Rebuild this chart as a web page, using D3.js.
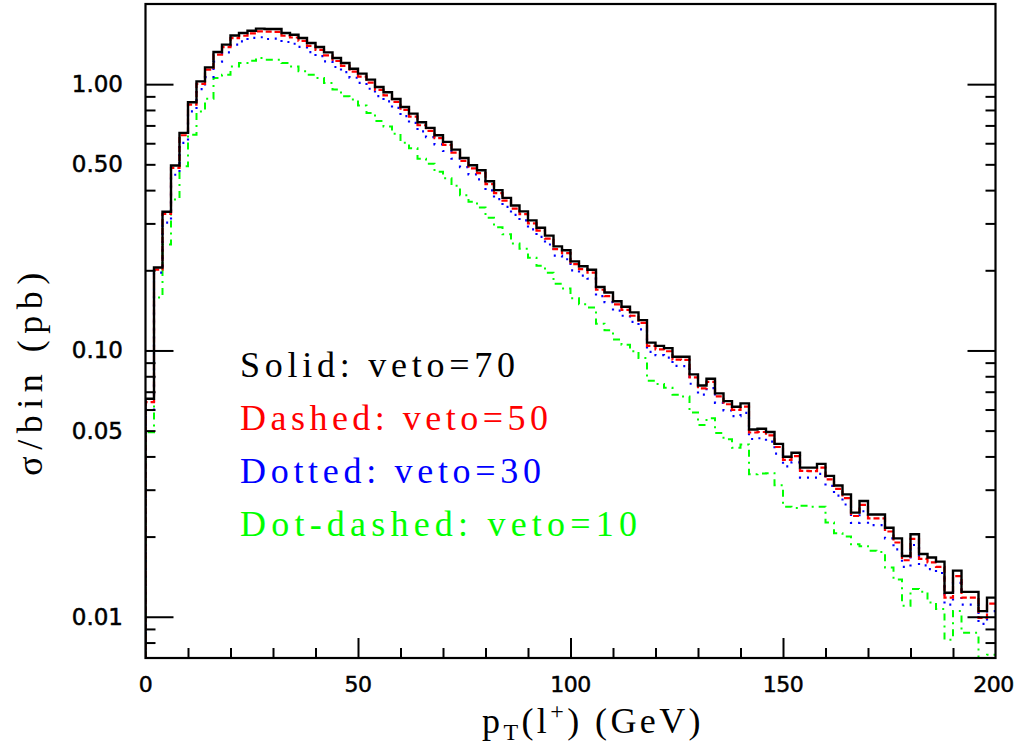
<!DOCTYPE html>
<html>
<head>
<meta charset="utf-8">
<script src="https://cdn.jsdelivr.net/npm/d3@7"></script>
<style>
  body { margin: 0; background: #fff; }
  svg { display: block; }
</style>
</head>
<body>
<svg id="chart" width="1015" height="752"></svg>
<script>
// pT(l+) histogram, 2 GeV bins from 0 to 200 GeV (lower edges)
const binWidth = 2;
const binEdges = d3.range(0, 200, binWidth);

// sigma/bin (pb) for each veto value
const solid70 = [
  0.0659, 0.205, 0.332, 0.495, 0.656, 0.855, 1.024, 1.156, 1.321, 1.407,
  1.524, 1.556, 1.588, 1.616, 1.611, 1.611, 1.556, 1.534, 1.491, 1.428,
  1.379, 1.316, 1.254, 1.201, 1.143, 1.095, 1.040, 0.976, 0.932, 0.880,
  0.821, 0.775, 0.719, 0.685, 0.643, 0.607, 0.568, 0.528, 0.496, 0.475,
  0.432, 0.400, 0.374, 0.350, 0.333, 0.308, 0.289, 0.270, 0.246, 0.238,
  0.216, 0.207, 0.201, 0.173, 0.165, 0.153, 0.146, 0.139, 0.130, 0.107,
  0.104, 0.102, 0.0947, 0.0947, 0.0813, 0.0739, 0.0783, 0.0690, 0.0645, 0.0615,
  0.0633, 0.0505, 0.0508, 0.0494, 0.0446, 0.0399, 0.0413, 0.0363, 0.0363, 0.0375,
  0.0338, 0.0311, 0.0288, 0.0246, 0.0272, 0.0242, 0.0242, 0.0216, 0.0197, 0.0169,
  0.0204, 0.0172, 0.0167, 0.0161, 0.0123, 0.0149, 0.0124, 0.0124, 0.0105, 0.0118
];
const dashed50 = [
  0.0640, 0.201, 0.326, 0.485, 0.643, 0.838, 1.003, 1.133, 1.292, 1.378,
  1.490, 1.520, 1.551, 1.578, 1.575, 1.573, 1.520, 1.497, 1.455, 1.393,
  1.344, 1.283, 1.222, 1.171, 1.114, 1.067, 1.013, 0.952, 0.908, 0.858,
  0.800, 0.755, 0.701, 0.668, 0.627, 0.592, 0.553, 0.515, 0.483, 0.463,
  0.421, 0.390, 0.365, 0.341, 0.325, 0.300, 0.282, 0.263, 0.240, 0.232,
  0.211, 0.202, 0.196, 0.169, 0.160, 0.149, 0.142, 0.135, 0.127, 0.104,
  0.101, 0.0993, 0.0923, 0.0921, 0.0792, 0.0720, 0.0762, 0.0672, 0.0628, 0.0598,
  0.0615, 0.0492, 0.0494, 0.0480, 0.0434, 0.0388, 0.0401, 0.0353, 0.0352, 0.0363,
  0.0328, 0.0302, 0.0279, 0.0239, 0.0263, 0.0234, 0.0234, 0.0209, 0.0190, 0.0163,
  0.0196, 0.0165, 0.0160, 0.0154, 0.0118, 0.0142, 0.0118, 0.0118, 0.0099, 0.0112
];
const dotted30 = [
  0.0600, 0.196, 0.302, 0.457, 0.602, 0.790, 0.958, 1.063, 1.215, 1.316,
  1.407, 1.447, 1.493, 1.500, 1.478, 1.482, 1.440, 1.418, 1.380, 1.320,
  1.275, 1.218, 1.160, 1.110, 1.057, 1.012, 0.961, 0.902, 0.862, 0.814,
  0.759, 0.716, 0.665, 0.633, 0.594, 0.561, 0.525, 0.488, 0.458, 0.439,
  0.399, 0.370, 0.346, 0.323, 0.308, 0.285, 0.267, 0.250, 0.227, 0.220,
  0.200, 0.191, 0.186, 0.160, 0.152, 0.141, 0.135, 0.128, 0.120, 0.0988,
  0.0960, 0.0940, 0.0875, 0.0873, 0.0750, 0.0683, 0.0722, 0.0636, 0.0595, 0.0567,
  0.0583, 0.0465, 0.0468, 0.0455, 0.0410, 0.0367, 0.0380, 0.0333, 0.0333, 0.0344,
  0.0310, 0.0285, 0.0264, 0.0225, 0.0249, 0.0221, 0.0221, 0.0197, 0.0179, 0.0154,
  0.0186, 0.0156, 0.0151, 0.0146, 0.0111, 0.0134, 0.0111, 0.0111, 0.0094, 0.0105
];
const dotdash10 = [
  0.0493, 0.158, 0.250, 0.369, 0.492, 0.646, 0.790, 0.882, 1.055, 1.085,
  1.166, 1.201, 1.225, 1.254, 1.236, 1.236, 1.201, 1.166, 1.117, 1.085,
  1.055, 1.010, 0.954, 0.900, 0.875, 0.831, 0.780, 0.727, 0.694, 0.651,
  0.603, 0.574, 0.525, 0.503, 0.469, 0.443, 0.415, 0.383, 0.362, 0.344,
  0.315, 0.290, 0.273, 0.252, 0.241, 0.223, 0.208, 0.196, 0.178, 0.171,
  0.157, 0.149, 0.145, 0.126, 0.119, 0.110, 0.105, 0.0994, 0.0936, 0.0770,
  0.0749, 0.0724, 0.0682, 0.0672, 0.0585, 0.0525, 0.0556, 0.0490, 0.0464, 0.0431,
  0.0443, 0.0343, 0.0345, 0.0346, 0.0312, 0.0259, 0.0256, 0.0261, 0.0259, 0.0259,
  0.0226, 0.0206, 0.0200, 0.0187, 0.0184, 0.0177, 0.0175, 0.0153, 0.0138, 0.0110,
  0.0127, 0.0124, 0.0113, 0.0107, 0.0082, 0.0105, 0.0087, 0.0087, 0.0065, 0.0072
];

const xTickLabels = [0, 50, 100, 150, 200];
const xMinorTicks = d3.range(10, 200, 10);
const yTickLabels = [1.00, 0.50, 0.10, 0.05, 0.01];
const yMajorTicks = [1, 0.1, 0.01];
const legendLabels = ["Solid: veto=70", "Dashed: veto=50", "Dotted: veto=30", "Dot-dashed: veto=10"];

const series = [
  {name: "veto=10", values: dotdash10, color: "#00ff00", width: 2, dash: "7,5,2,5"},
  {name: "veto=30", values: dotted30, color: "#0000ff", width: 2.2, dash: "2,6"},
  {name: "veto=50", values: dashed50, color: "#ff0000", width: 2.2, dash: "6,3"},
  {name: "veto=70", values: solid70, color: "#000000", width: 2.4, dash: null}
];

const svg = d3.select("#chart");
const margin = {top: 4, right: 19.5, bottom: 94, left: 145.5};
const W = 1015, H = 752;

const x = d3.scaleLinear().domain([0, 200]).range([margin.left, W - margin.right]);
const y = d3.scaleLog().domain([0.007, 2.0]).range([H - margin.bottom, margin.top]);

svg.append("defs").append("clipPath").attr("id", "plotclip")
  .append("rect")
  .attr("x", x(0)).attr("y", y(2.0))
  .attr("width", x(200) - x(0)).attr("height", y(0.007) - y(2.0));

// histogram outlines
const line = d3.line()
  .x(d => x(d[0]))
  .y(d => y(d[1]))
  .curve(d3.curveStepAfter);

const plot = svg.append("g").attr("clip-path", "url(#plotclip)");
series.forEach(s => {
  const pts = [[0, 0.007]];
  binEdges.forEach((e, i) => pts.push([e, s.values[i]]));
  pts.push([200, s.values[s.values.length - 1]]);
  plot.append("path")
    .datum(pts)
    .attr("fill", "none")
    .attr("stroke", s.color)
    .attr("stroke-width", s.width)
    .attr("stroke-dasharray", s.dash)
    .attr("d", line);
});

// frame
svg.append("rect")
  .attr("x", x(0)).attr("y", y(2.0))
  .attr("width", x(200) - x(0)).attr("height", y(0.007) - y(2.0))
  .attr("fill", "none").attr("stroke", "#000").attr("stroke-width", 2.2);

// ticks (drawn inward)
function tickAxis(axis, transform) {
  const g = svg.append("g").attr("transform", transform).call(axis);
  g.select(".domain").remove();
  g.selectAll("line").attr("stroke", "#000").attr("stroke-width", 2);
  g.selectAll("text").remove();
  return g;
}
const yMinor = y.ticks().filter(v => !yMajorTicks.some(m => Math.abs(m - v) < 1e-9) && v > 0.007 && v < 2);
tickAxis(d3.axisBottom(x).tickValues(xMinorTicks.filter(v => v % 50 !== 0)).tickSize(-10), `translate(0,${y(0.007)})`);
tickAxis(d3.axisBottom(x).tickValues([50, 100, 150]).tickSize(-20), `translate(0,${y(0.007)})`);
tickAxis(d3.axisLeft(y).tickValues(yMinor).tickSize(-10), `translate(${x(0)},0)`);
tickAxis(d3.axisLeft(y).tickValues(yMajorTicks).tickSize(-28), `translate(${x(0)},0)`);
tickAxis(d3.axisRight(y).tickValues(yMinor).tickSize(-10), `translate(${x(200)},0)`);
tickAxis(d3.axisRight(y).tickValues(yMajorTicks).tickSize(-28), `translate(${x(200)},0)`);

// tick labels
const labelFont = "'DejaVu Sans', sans-serif";
svg.append("g").selectAll("text")
  .data(xTickLabels).join("text")
  .attr("x", d => d === 200 ? x(d) - 2 : x(d)).attr("y", 692)
  .attr("text-anchor", "middle")
  .attr("font-family", labelFont).attr("font-size", 22)
  .attr("letter-spacing", -0.5)
  .attr("stroke", "#000").attr("stroke-width", 0.5)
  .text(d => d);
svg.append("g").selectAll("text")
  .data(yTickLabels).join("text")
  .attr("x", 123).attr("y", d => y(d) + 8)
  .attr("text-anchor", "end")
  .attr("font-family", labelFont).attr("font-size", 23)
  .attr("stroke", "#000").attr("stroke-width", 0.5)
  .text(d => d3.format(".2f")(d));

// axis titles
const serif = "'Liberation Serif', 'Times New Roman', serif";
svg.append("text")
  .attr("transform", "translate(42,371) rotate(-90)")
  .attr("text-anchor", "middle")
  .attr("font-family", serif).attr("font-size", 36)
  .attr("letter-spacing", 6.5)
  .text("σ/bin (pb)");

const xt = svg.append("text")
  .attr("x", 482).attr("y", 733)
  .attr("font-family", serif).attr("font-size", 36)
  .attr("letter-spacing", 3.4);
xt.append("tspan").text("p");
xt.append("tspan").attr("font-size", 24).attr("dy", 7).text("T");
xt.append("tspan").attr("dy", -7).text("(l");
xt.append("tspan").attr("font-size", 24).attr("dy", -14).text("+");
xt.append("tspan").attr("dy", 14).text(") (GeV)");

// legend text
const legendColors = ["#000000", "#ff0000", "#0000ff", "#00ff00"];
const legendWidths = [275, 308, 301, 397];
svg.append("g").selectAll("text")
  .data(legendLabels).join("text")
  .attr("x", 240).attr("y", (d, i) => 377 + i * 53)
  .attr("font-family", serif).attr("font-size", 36)
  .attr("fill", (d, i) => legendColors[i])
  .attr("textLength", (d, i) => legendWidths[i])
  .attr("lengthAdjust", "spacing")
  .text(d => d);
</script>
</body>
</html>
